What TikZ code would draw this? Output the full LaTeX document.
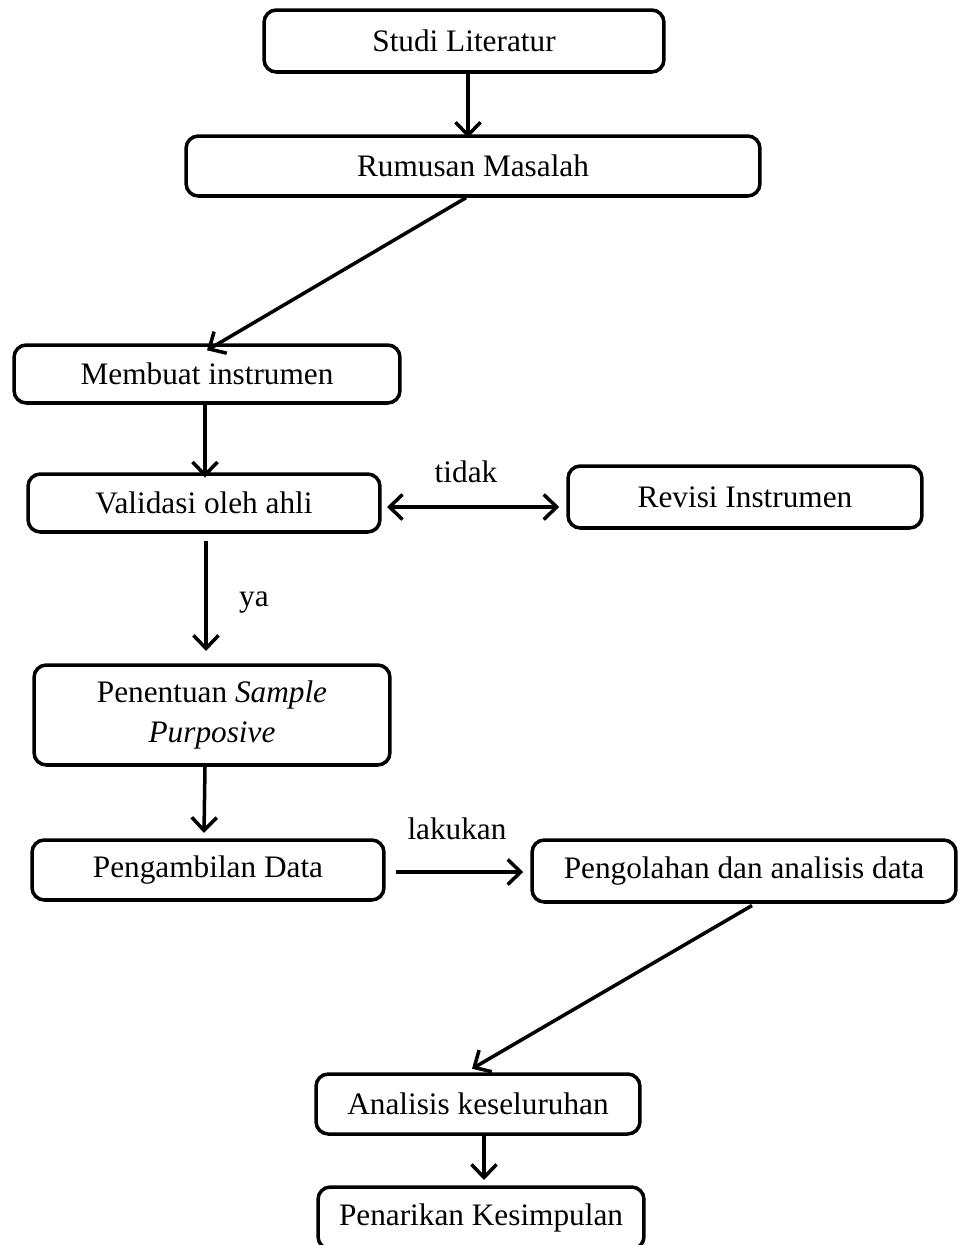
\documentclass[tikz,border=0pt]{standalone}
\usepackage{fontspec}
\setmainfont{Liberation Serif}
\usetikzlibrary{arrows.meta, positioning, calc}
\tikzset{
  stepbox/.style = {draw, rounded corners=7pt, line width=2pt, align=center,
                    font=\fontsize{17.8}{23}\selectfont, inner sep=2pt},
  flow/.style    = {-{Straight Barb[length=2.6mm, width=5mm, line width=2pt]},
                    line width=2pt},
  biflow/.style  = {{Straight Barb[length=2.6mm, width=5mm, line width=2pt]}-{Straight Barb[length=2.6mm, width=5mm, line width=2pt]},
                    line width=2pt},
  lbl/.style     = {font=\fontsize{17.8}{21}\selectfont, inner sep=0pt}
}

\begin{document}
\begin{tikzpicture}[x=0.02cm, y=-0.02cm]
\useasboundingbox (0,0) rectangle (960,1245);

\node[stepbox, minimum width=8cm,    minimum height=1.24cm] at (464, 41)  (studi)    {Studi Literatur};
\node[stepbox, minimum width=11.48cm, minimum height=1.2cm] at (473, 166) (rumusan)  {Rumusan Masalah};
\node[stepbox, minimum width=7.72cm, minimum height=1.16cm] at (207, 374) (membuat)  {Membuat instrumen};
\node[stepbox, minimum width=7.04cm, minimum height=1.16cm] at (204, 503) (validasi) {Validasi oleh ahli};
\node[stepbox, minimum width=7.08cm, minimum height=1.24cm] at (745, 497) (revisi)   {Revisi Instrumen};
\node[stepbox, minimum width=7.12cm, minimum height=2cm]    at (212, 715) (sampel)   {Penentuan \textit{Sample}\\\textit{Purposive}};
\node[stepbox, minimum width=7.04cm, minimum height=1.2cm]  at (208, 870) (ambil)    {Pengambilan Data};
\node[stepbox, minimum width=8.48cm, minimum height=1.24cm] at (744, 871) (olah)     {Pengolahan dan analisis data};
\node[stepbox, minimum width=6.48cm, minimum height=1.2cm]  at (478, 1104) (analisis) {Analisis keseluruhan};
\node[stepbox, minimum width=6.52cm, minimum height=1.24cm] at (481, 1218) (tarik)    {Penarikan Kesimpulan};

% label cabang
\node[lbl] at (466, 472) (tidak)   {tidak};
\node[lbl] at (254, 603) (ya)      {ya};
\node[lbl] at (457, 829) (lakukan) {lakukan};

\draw[flow] ([xshift=0.08cm]studi.south) -- ([xshift=0.08cm, yshift=-2pt]studi.south |- rumusan.north);
\draw[flow] ([xshift=-0.14cm]rumusan.south) -- ([yshift=-4pt]membuat.north);
\draw[flow] ([xshift=-0.04cm]membuat.south) -- ([xshift=-0.04cm, yshift=-3pt]membuat.south |- validasi.north);
\draw[biflow] ([xshift=3pt, yshift=-0.08cm]validasi.east) -- ([xshift=-4pt, yshift=-0.08cm]validasi.east -| revisi.west);
\draw[flow] ([xshift=0.04cm, yshift=-4pt]validasi.south) -- ([xshift=0.04cm, yshift=7pt]validasi.south |- sampel.north);
\draw[flow] ([xshift=-0.14cm]sampel.south) -- ([xshift=-0.08cm, yshift=3pt]ambil.north);
\draw[flow] ([xshift=6pt, yshift=-0.04cm]ambil.east) -- ([xshift=-4pt, yshift=-0.04cm]ambil.east -| olah.west);
\draw[flow] ([xshift=0.16cm, yshift=-1pt]olah.south) -- ([xshift=-0.12cm, yshift=2pt]analisis.north);
\draw[flow] ([xshift=0.12cm]analisis.south) -- ([xshift=0.12cm, yshift=3pt]analisis.south |- tarik.north);
\end{tikzpicture}
\end{document}
